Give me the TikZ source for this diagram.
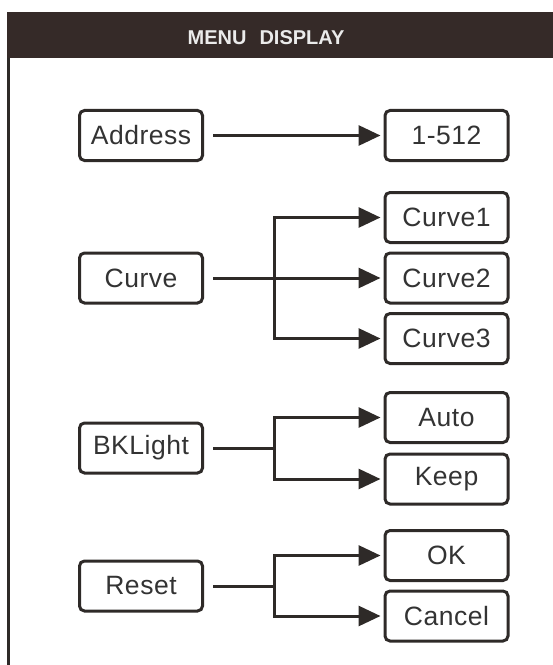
\documentclass[tikz,border=0pt]{standalone}
\usepackage{fontspec}
\setmainfont{Liberation Sans}
\newfontfamily\boxfont[LetterSpace=2]{Liberation Sans}
\usetikzlibrary{arrows.meta}
\definecolor{ink}{HTML}{2E2A28}
\definecolor{headbg}{HTML}{352A28}
\definecolor{txt}{HTML}{333333}
\tikzset{
  mbox/.style={draw=ink, line width=3bp, rounded corners=5bp, minimum width=123bp,
    minimum height=50bp, inner sep=0pt, text=txt, font=\boxfont\fontsize{26.5bp}{30bp}\selectfont},
  conn/.style={draw=ink, line width=3bp},
  arr/.style={conn, -{Triangle[length=22bp,width=20bp]}, shorten >=3bp},
}
\begin{document}
\begin{tikzpicture}[x=1bp,y=-1bp]
\useasboundingbox (0,0) rectangle (553,665);
% header and frame
\fill[headbg] (7,12) rectangle (553,58);
\node[text=white!92!black, font=\bfseries\fontsize{20bp}{24bp}\selectfont, inner sep=0pt] (title) at (266,38) {MENU\hspace{13bp}DISPLAY};
\draw[ink, line width=2.5bp] (8.5,58) -- (8.5,665);
% nodes
\node[mbox] (addr) at (141,135.5) {Address};
\node[mbox] (range) at (446.5,135.5) {1-512};
\node[mbox] (curve) at (141,278) {Curve};
\node[mbox] (c1) at (446.5,217.5) {Curve1};
\node[mbox] (c2) at (446.5,278) {Curve2};
\node[mbox] (c3) at (446.5,338.5) {Curve3};
\node[mbox] (bk) at (141,448) {BKLight};
\node[mbox] (auto) at (446.5,417.5) {Auto};
\node[mbox] (keep) at (446.5,479) {Keep};
\node[mbox] (reset) at (141,586) {Reset};
\node[mbox] (ok) at (446.5,555.5) {OK};
\node[mbox] (cancel) at (446.5,616) {Cancel};
% junctions
\coordinate (jc) at (274,278);
\coordinate (jb) at (274,448);
\coordinate (jr) at (274,586);
% connectors
\draw[arr, shorten <=9bp] (addr.east) -- (range.west);
\draw[arr, shorten <=9bp] (curve.east) -- (c2.west);
\draw[arr] (jc) |- (c1.west);
\draw[arr] (jc) |- (c3.west);
\draw[conn, shorten <=9bp] (bk.east) -- (jb);
\draw[arr] (jb) |- (auto.west);
\draw[arr] (jb) |- (keep.west);
\draw[conn, shorten <=9bp] (reset.east) -- (jr);
\draw[arr] (jr) |- (ok.west);
\draw[arr] (jr) |- (cancel.west);
\end{tikzpicture}
\end{document}
